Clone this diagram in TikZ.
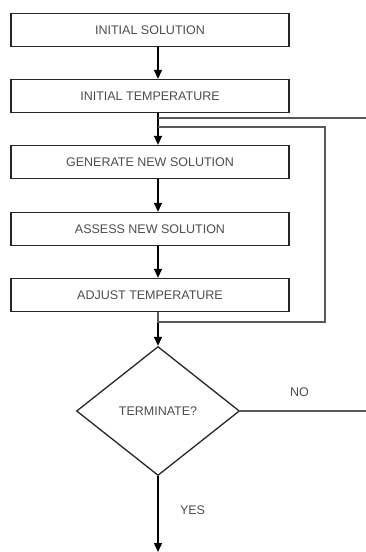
\documentclass[tikz,border=0pt]{standalone}
\usepackage{fontspec}
\setmainfont{Liberation Sans}
\usetikzlibrary{shapes.geometric,arrows.meta}

\begin{document}
\begin{tikzpicture}[x=1pt, y=1pt, font=\fontsize{12.5}{14}\selectfont]
		\tikzstyle{stepbox}=[draw=black!85, line width=1.3pt, rectangle, minimum width=278pt, minimum height=33pt, inner sep=0pt, text=black!70]
		\tikzstyle{flow}=[line width=1.4pt, -{Triangle[width=8pt,length=9pt]}]
		\tikzstyle{loop}=[draw=black!65, line width=1.5pt]
		\clip (0,0) rectangle (366,-552);
		
		\node[stepbox](init-sol) at (150,-30) {INITIAL SOLUTION};
		\node[stepbox](init-temp) at (150,-96) {INITIAL TEMPERATURE};
		\node[stepbox](gen-sol) at (150,-162) {GENERATE NEW SOLUTION};
		\node[stepbox](assess-sol) at (150,-229) {ASSESS NEW SOLUTION};
		\node[stepbox](adjust-temp) at (150,-295) {ADJUST TEMPERATURE};
		
		\node[draw=black!85, line width=1.3pt, diamond, minimum width=163pt, minimum height=129pt, inner sep=0pt, text=black!70](term) at (158,-411) {TERMINATE?};
		\coordinate (done) at (158,-552);
		\coordinate (join-no) at (158,-118);
		\coordinate (join-loop) at (158,-127);
		
		% straight flow down the chain
		\foreach \a/\b in {init-sol/init-temp, init-temp/gen-sol, gen-sol/assess-sol, assess-sol/adjust-temp}
		\draw[flow] (\a.south -| term) -- (\b.north -| term);
		\draw[flow] (adjust-temp.south -| term) -- (term.north);
		\draw[flow] (term.south) -- (done) node[pos=0.45, right=18pt, text=black!70]{YES};
		
		% loops back up
		\path[loop] (adjust-temp.south -| term) -- ++(0,-10) -| (325,-127) -- (join-loop);
		\path[loop] (term.east) -- node[above=10pt, pos=0.45, text=black!70]{NO} (372,-411) |- (join-no);
\end{tikzpicture}
\end{document}
